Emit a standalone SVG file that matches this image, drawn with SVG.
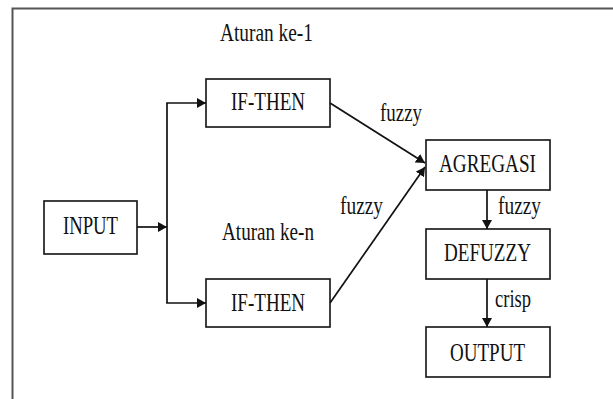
<svg xmlns="http://www.w3.org/2000/svg" width="613" height="399" viewBox="0 0 613 399">
<style>
.box{fill:#fff;stroke:#111;stroke-width:1.6}
.lbl{font-family:"Liberation Serif","Times New Roman",serif;font-size:26px;fill:#111}
.conn{stroke:#111;stroke-width:1.7;fill:none}
</style>
<defs>
<marker id="ah" viewBox="0 0 9 10" refX="9" refY="5" markerWidth="9" markerHeight="10" markerUnits="userSpaceOnUse" orient="auto">
<path d="M0,0 L9,5 L0,10 Z" fill="#111"/>
</marker>
</defs>
<rect width="613" height="399" fill="#fff"/>
<path d="M12.5,399 V8.5 H613" fill="none" stroke="#555" stroke-width="2"/>
<text class="lbl" x="220" y="41" textLength="93" lengthAdjust="spacingAndGlyphs">Aturan ke-1</text>
<text class="lbl" x="222" y="240" textLength="92" lengthAdjust="spacingAndGlyphs">Aturan ke-n</text>
<g id="connectors">
<line class="conn" x1="137" y1="227" x2="167" y2="227" marker-end="url(#ah)"/>
<line class="conn" x1="167" y1="103" x2="167" y2="303"/>
<line class="conn" x1="166.2" y1="103" x2="206" y2="103" marker-end="url(#ah)"/>
<line class="conn" x1="166.2" y1="303" x2="206" y2="303" marker-end="url(#ah)"/>
<line class="conn" x1="330" y1="103" x2="425" y2="163" marker-end="url(#ah)"/>
<line class="conn" x1="330" y1="303" x2="425" y2="167" marker-end="url(#ah)"/>
<line class="conn" x1="487" y1="190" x2="487" y2="229" marker-end="url(#ah)"/>
<line class="conn" x1="487" y1="279" x2="487" y2="327" marker-end="url(#ah)"/>
<text class="lbl" x="380" y="121" textLength="42" lengthAdjust="spacingAndGlyphs">fuzzy</text>
<text class="lbl" x="340" y="214" textLength="43" lengthAdjust="spacingAndGlyphs">fuzzy</text>
<text class="lbl" x="498" y="214" textLength="43" lengthAdjust="spacingAndGlyphs">fuzzy</text>
<text class="lbl" x="495" y="307" textLength="36" lengthAdjust="spacingAndGlyphs">crisp</text>
</g>
<g id="input">
<rect class="box" x="44" y="201" width="93" height="53"/>
<text class="lbl" x="63" y="234" textLength="55" lengthAdjust="spacingAndGlyphs">INPUT</text>
</g>
<g id="ifthen1">
<rect class="box" x="206" y="79" width="124" height="48"/>
<text class="lbl" x="231" y="110" textLength="74" lengthAdjust="spacingAndGlyphs">IF-THEN</text>
</g>
<g id="ifthen2">
<rect class="box" x="206" y="279" width="124" height="48"/>
<text class="lbl" x="231" y="311" textLength="74" lengthAdjust="spacingAndGlyphs">IF-THEN</text>
</g>
<g id="agregasi">
<rect class="box" x="426" y="140" width="124" height="50"/>
<text class="lbl" x="439" y="172" textLength="97" lengthAdjust="spacingAndGlyphs">AGREGASI</text>
</g>
<g id="defuzzy">
<rect class="box" x="426" y="229" width="124" height="50"/>
<text class="lbl" x="444" y="261" textLength="87" lengthAdjust="spacingAndGlyphs">DEFUZZY</text>
</g>
<g id="output">
<rect class="box" x="426" y="327" width="124" height="50"/>
<text class="lbl" x="450" y="361" textLength="75" lengthAdjust="spacingAndGlyphs">OUTPUT</text>
</g>
</svg>
